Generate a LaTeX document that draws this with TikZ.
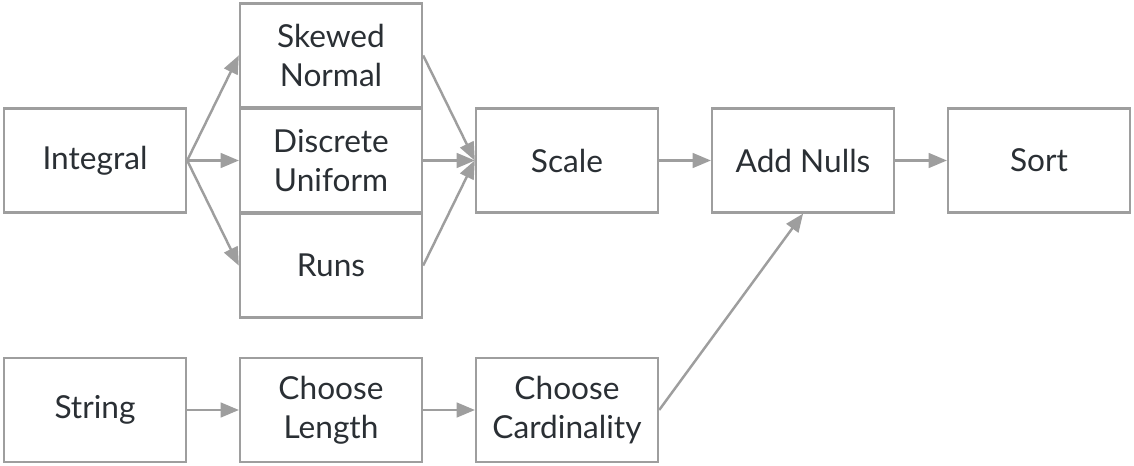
\documentclass[tikz,border=0pt]{standalone}
\usepackage{fontspec}
\setmainfont{Lato}
\usetikzlibrary{arrows}
\definecolor{xline}{RGB}{158,158,158}
\definecolor{xtext}{RGB}{42,47,52}

\begin{document}
\begin{tikzpicture}[->,>=triangle 45,x=0.02cm,y=-0.02cm]
\tikzset{blk/.style={rectangle,draw=xline,line width=1.4pt,fill=white,text=xtext,
  minimum width=3.64cm,minimum height=2.08cm,align=center,
  font=\fontsize{18}{22}\selectfont}}
\tikzset{flow/.style={draw=xline,line width=1.4pt}}
\useasboundingbox (0,0) rectangle (1134,466);
\node[blk] at (95,160.5) (integral) {Integral};
\node[blk] at (331,55.5) (skewed) {Skewed\\Normal};
\node[blk] at (331,160.5) (discrete) {Discrete\\Uniform};
\node[blk] at (331,265.5) (runs) {Runs};
\node[blk] at (567,160.5) (scale) {Scale};
\node[blk] at (803,160.5) (nulls) {Add Nulls};
\node[blk] at (1039,160.5) (sort) {Sort};
\node[blk] at (95,410) (string) {String};
\node[blk] at (331,410) (length) {Choose\\Length};
\node[blk] at (567,410) (card) {Choose\\Cardinality};
\draw[flow] (integral.east) -- (skewed.west);
\draw[flow] (integral.east) -- (discrete.west);
\draw[flow] (integral.east) -- (runs.west);
\draw[flow] (skewed.east) -- (scale.west);
\draw[flow] (discrete.east) -- (scale.west);
\draw[flow] (runs.east) -- (scale.west);
\draw[flow] (scale) -- (nulls);
\draw[flow] (nulls) -- (sort);
\draw[flow] (string) -- (length);
\draw[flow] (length) -- (card);
\draw[flow] (card.east) -- (nulls.south);
\end{tikzpicture}
\end{document}
